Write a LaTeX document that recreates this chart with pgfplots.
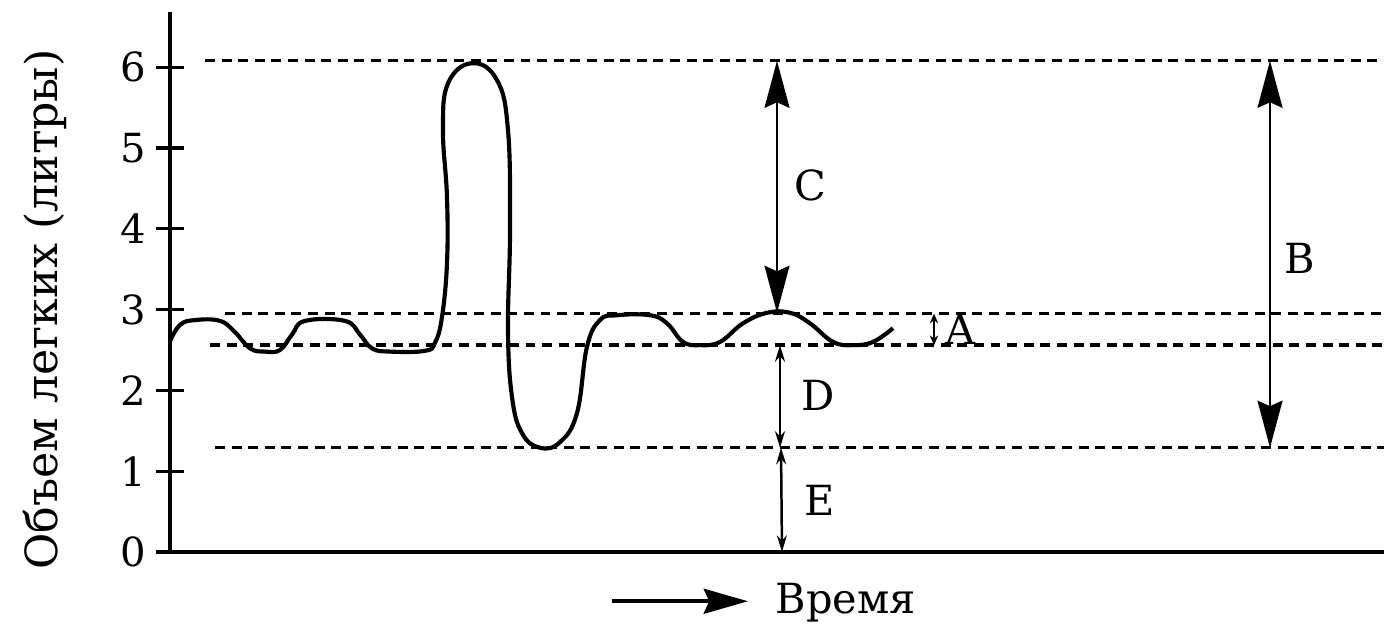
\documentclass[border=0pt]{standalone}
\usepackage{fontspec}
\setmainfont{DejaVu Serif}
\usepackage{pgfplots}
\pgfplotsset{compat=1.18}
\usetikzlibrary{arrows.meta}

\begin{document}
\begin{tikzpicture}
\begin{axis}[
  x=0.3613pt, y=29.19pt,
  xmin=0, xmax=1214, ymin=0, ymax=6.68,
  axis x line=bottom, axis y line=left,
  axis line style={-, line width=1.7pt},
  xtick=\empty,
  ytick={0,1,2,3,4,5,6},
  tick align=center,
  major tick length=10pt,
  tick style={line width=1.2pt, black},
  yticklabel style={font=\fontsize{14.5}{16}\selectfont},
  /pgf/number format/assume math mode=true,
  clip=false,
  enlargelimits=false,
]
% reference levels (dashed)
\addplot[black, line width=1.2pt, dash pattern=on 3.6pt off 2.4pt] coordinates {(35,6.08) (1214,6.08)};
\addplot[black, line width=1.2pt, dash pattern=on 3.6pt off 2.4pt] coordinates {(55,2.95) (1214,2.95)};
\addplot[black, line width=1.2pt, dash pattern=on 3.6pt off 2.4pt] coordinates {(40,2.56) (1214,2.56)};
\addplot[black, line width=1.2pt, dash pattern=on 3.6pt off 2.4pt] coordinates {(45,1.29) (1214,1.29)};
% spirogram
\addplot[black, line width=1.5pt, smooth, tension=0.7] coordinates {
(0,2.61) (10,2.81) (25,2.87) (50,2.86) (65,2.72) (80,2.52) (95,2.48) (110,2.50)
(122,2.69) (135,2.86) (175,2.86) (190,2.69) (202,2.52) (220,2.48) (255,2.49)
(265,2.59) (272,2.91) (277,3.58) (277,4.39) (273,5.22) (278,5.80) (302,6.05)
(327,5.84) (338,5.22) (340,3.99) (338,2.75) (342,1.92) (352,1.47) (370,1.29)
(390,1.36) (407,1.72) (417,2.54) (430,2.87) (447,2.93) (480,2.93) (497,2.83)
(513,2.60) (530,2.56) (550,2.60) (573,2.83) (597,2.96) (620,2.96) (640,2.83)
(663,2.60) (683,2.56) (703,2.60) (723,2.77)
};
% arrows
\addplot[black, line width=0.9pt, {Stealth[length=17pt,width=9pt,inset=2pt]}-{Stealth[length=17pt,width=9pt,inset=2pt]}] coordinates {(607,6.08) (607,2.96)};
\addplot[black, line width=0.9pt, {Stealth[length=17pt,width=9pt,inset=2pt]}-{Stealth[length=17pt,width=9pt,inset=2pt]}] coordinates {(1100,6.08) (1100,1.29)};
\addplot[black, line width=0.9pt, {Stealth[length=6pt,width=3.6pt]}-{Stealth[length=6pt,width=3.6pt]}] coordinates {(610,2.56) (610,1.29)};
\addplot[black, line width=0.9pt, {Stealth[length=6pt,width=3.6pt]}-{Stealth[length=6pt,width=3.6pt]}] coordinates {(611,1.29) (612,0)};
\addplot[black, line width=1pt, {Stealth[length=3.5pt,width=3pt]}-{Stealth[length=3.5pt,width=3pt]}] coordinates {(764,2.95) (764,2.56)};
% time arrow
\addplot[black, line width=1.4pt, -{Stealth[length=16pt,width=9pt,inset=2pt]}] coordinates {(442,-0.61) (578,-0.61)};
\node[anchor=west, font=\fontsize{15}{17}\selectfont] at (axis cs:596,-0.63) {Время};
% letters
\node[font=\fontsize{15}{17}\selectfont] at (axis cs:640,4.54) {C};
\node[font=\fontsize{15}{17}\selectfont] at (axis cs:1130,3.64) {B};
\node[font=\fontsize{15}{17}\selectfont] at (axis cs:648,1.94) {D};
\node[font=\fontsize{15}{17}\selectfont] at (axis cs:650,0.64) {E};
\node[font=\fontsize{15}{17}\selectfont] at (axis cs:790,2.76) {A};
% y label
\node[rotate=90, font=\fontsize{16}{18}\selectfont] at (axis cs:-125,3.0) {Объем легких (литры)};
\coordinate (bl) at (axis cs:-170,-0.916);
\coordinate (tr) at (axis cs:1214,6.832);
\end{axis}
\pgfresetboundingbox
\path (bl) rectangle (tr);
\end{tikzpicture}
\end{document}
